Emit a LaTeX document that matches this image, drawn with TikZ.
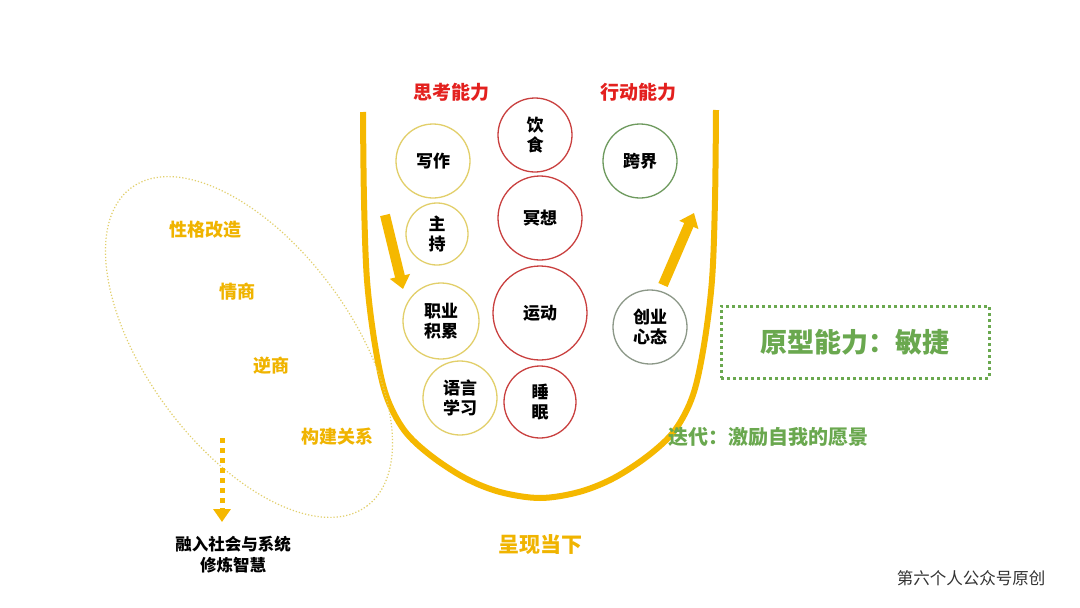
\documentclass[tikz,border=0pt]{standalone}
\usepackage{fontspec}
\setmainfont{Noto Sans CJK SC}
\usetikzlibrary{arrows.meta}
\definecolor{gold}{HTML}{F5B800}
\definecolor{paleyel}{HTML}{E2CF6A}
\definecolor{cred}{HTML}{C9403F}
\definecolor{tred}{HTML}{E3201E}
\definecolor{cgreen}{HTML}{6E9A5E}
\definecolor{cgray}{HTML}{8C9888}
\definecolor{tgreen}{HTML}{6AA84F}
\definecolor{tgold}{HTML}{F0B400}
\tikzset{
  yc/.style={circle,draw=paleyel,line width=1.3pt,minimum size=#1,inner sep=0pt,align=center,font=\fontsize{17}{20}\selectfont\bfseries},
  rc/.style={circle,draw=cred,line width=1.3pt,minimum size=#1,inner sep=0pt,align=center,font=\fontsize{17}{20}\selectfont\bfseries},
  gc/.style={circle,draw=cgreen,line width=1.3pt,minimum size=#1,inner sep=0pt,align=center,font=\fontsize{17}{20}\selectfont\bfseries},
  hd/.style={text=tred,font=\fontsize{19}{22}\selectfont\bfseries},
  gl/.style={text=tgold,font=\fontsize{18}{21}\selectfont\bfseries},
  bigarrow/.style={draw=gold,line width=10pt,-{Triangle[width=20pt,length=13pt]}},
}
\begin{document}
\begin{tikzpicture}[x=1pt,y=-1pt]
\useasboundingbox (0,0) rectangle (1080,608);
\fill[white] (0,0) rectangle (1080,608);
% U shape
\draw[gold,line width=6pt,line join=round] plot[smooth,tension=0.55] coordinates {
  (363,112) (364,200) (367,280) (375,345) (386,395) (404,430) (430,455) (465,478) (500,492) (540,498)
  (579,492) (614,478) (649,455) (675,430) (693,395) (704,345) (712,280) (715,200) (716,110)};
% headings
\node[hd] (sk) at (451,92) {思考能力};
\node[hd] (xd) at (638,92) {行动能力};
% circles
\node[yc=74pt] (xz) at (433,161) {写作};
\node[yc=62pt] (zc) at (437,234) {主\\持};
\node[yc=76pt] (zy) at (441,321) {职业\\积累};
\node[yc=74pt] (yy) at (460,398) {语言\\学习};
\node[rc=74pt] (ys) at (535,135) {饮\\食};
\node[rc=84pt] (mx) at (540,218) {冥想};
\node[rc=94pt] (yd) at (540,313) {运动};
\node[rc=72pt] (sm) at (540,402) {睡\\眠};
\node[gc=74pt] (kj) at (640,161) {跨界};
\node[circle,draw=cgray,line width=1.3pt,minimum size=74pt,inner sep=0pt,align=center,font=\fontsize{17}{20}\selectfont\bfseries] (cy) at (650,327) {创业\\心态};
% thick arrows
\coordinate (da1) at (385,215);
\coordinate (da2) at (403,289);
\draw[bigarrow] (da1) -- (da2);
\coordinate (ua1) at (663,285);
\coordinate (ua2) at (694,213);
\draw[bigarrow] (ua1) -- (ua2);
% left ellipse
\coordinate (ec) at (249,347);
\draw[paleyel,line width=1.2pt,dotted,rotate around={-53.5:(ec)}] (ec) ellipse [x radius=198pt,y radius=102pt];
\node[gl] (xg) at (205,230) {性格改造};
\node[gl] (qs) at (237,292) {情商};
\node[gl] (ns) at (271,366) {逆商};
\node[gl] (gj) at (337,437) {构建关系};
% dashed arrow
\coordinate (dd1) at (222,438);
\coordinate (dd2) at (222,522);
\node[font=\fontsize{16.5}{21}\selectfont\bfseries,align=center,anchor=north] (rr) at (233,533) {融入社会与系统\\修炼智慧};
\draw[gold,line width=5pt,dash pattern=on 5pt off 5pt,-{Triangle[width=17pt,length=13pt]}] (dd1) -- (dd2);
% bottom
\node[text=tgold,font=\fontsize{21}{24}\selectfont\bfseries] (cx) at (540,545) {呈现当下};
% right
\node[draw=tgreen,line width=3pt,dash pattern=on 3pt off 3pt,minimum width=268pt,minimum height=72pt,text=tgreen,font=\fontsize{27}{30}\selectfont\bfseries] (yx) at (855,342) {原型能力：敏捷};
\node[text=tgreen,font=\fontsize{20}{22}\selectfont\bfseries] (dd) at (768,437) {迭代：激励自我的愿景};
\node[text=black!80,font=\fontsize{16.5}{19}\selectfont] (wm) at (971,578) {第六个人公众号原创};
\end{tikzpicture}
\end{document}
